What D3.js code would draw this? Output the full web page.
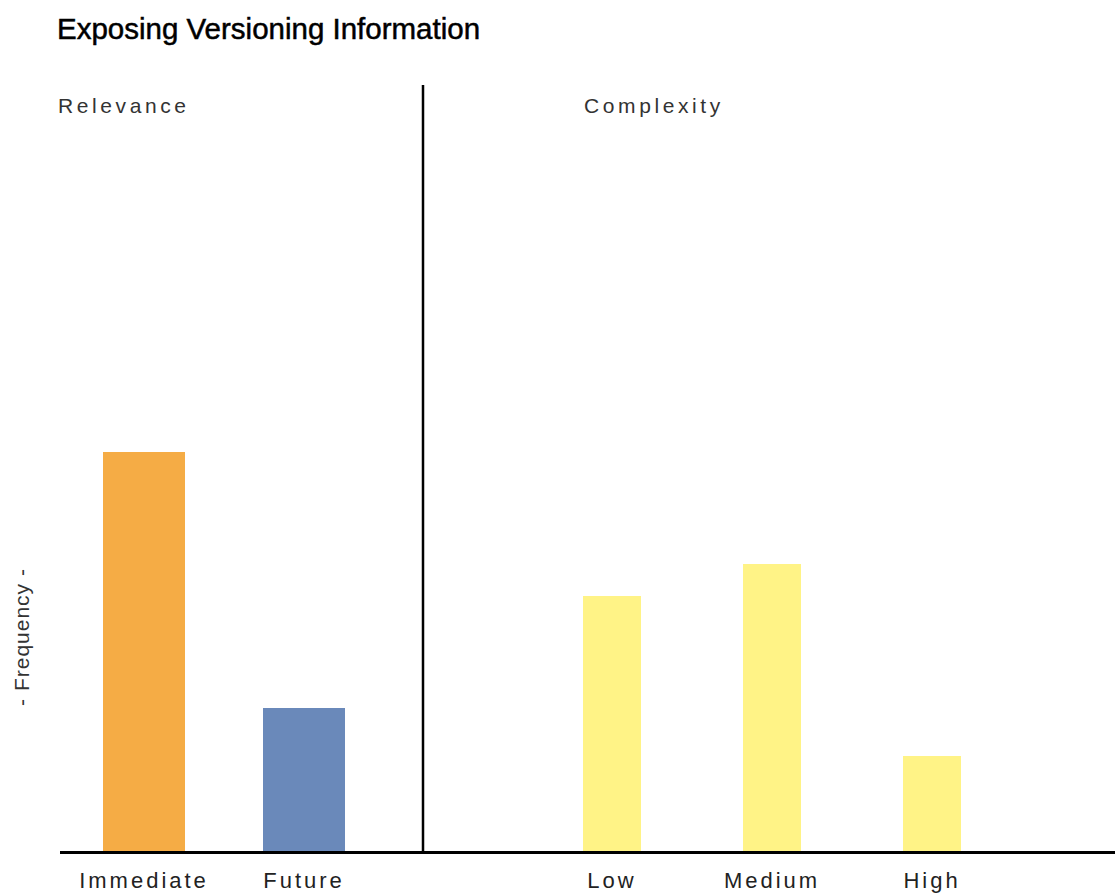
<!DOCTYPE html>
<html>
<head>
<meta charset="utf-8">
<script src="https://cdn.jsdelivr.net/npm/d3@7"></script>
<style>
  html, body { margin: 0; padding: 0; background: #fff; }
  svg { display: block; }
  text { font-family: "Liberation Sans", Arial, sans-serif; }
</style>
</head>
<body>
<svg id="chart" width="1115" height="893"></svg>
<script>
const title = "Exposing Versioning Information";
const yLabel = "- Frequency -";
const panelTitles = ["Relevance", "Complexity"];
const relevanceCats = ["Immediate", "Future"];
const relevanceVals = [25, 9];
const relevanceColors = ["#F5AC45", "#6A89BA"];
const complexityCats = ["Low", "Medium", "High"];
const complexityVals = [16, 18, 6];
const complexityColor = "#FFF386";

const svg = d3.select("#chart");
const baseY = 852, topY = 84;
const y = d3.scaleLinear().domain([0, 48]).range([baseY, topY]);

const xRel = d3.scaleBand().domain(relevanceCats).range([64, 384]);
const xCom = d3.scaleBand().domain(complexityCats).range([532, 1012]);
const relW = 82, comW = 58;

// bars
svg.append("g").selectAll("rect").data(relevanceCats).join("rect")
  .attr("x", d => xRel(d) + xRel.bandwidth()/2 - relW/2)
  .attr("width", relW)
  .attr("y", (d,i) => y(relevanceVals[i]))
  .attr("height", (d,i) => baseY - y(relevanceVals[i]))
  .attr("fill", (d,i) => relevanceColors[i]);

svg.append("g").selectAll("rect").data(complexityCats).join("rect")
  .attr("x", d => xCom(d) + xCom.bandwidth()/2 - comW/2)
  .attr("width", comW)
  .attr("y", (d,i) => y(complexityVals[i]))
  .attr("height", (d,i) => baseY - y(complexityVals[i]))
  .attr("fill", complexityColor);

// divider
svg.append("line").attr("x1", 423).attr("x2", 423).attr("y1", 85).attr("y2", baseY)
  .attr("stroke", "#000").attr("stroke-width", 2.5);

// baseline
svg.append("line").attr("x1", 60).attr("x2", 1115).attr("y1", baseY + 0.5).attr("y2", baseY + 0.5)
  .attr("stroke", "#000").attr("stroke-width", 3);

// x axis labels
const axRel = d3.axisBottom(xRel).tickSize(0).tickPadding(0);
const axCom = d3.axisBottom(xCom).tickSize(0).tickPadding(0);
[ [axRel], [axCom] ].forEach(([ax]) => {
  const g = svg.append("g").attr("transform", `translate(0,${baseY})`).call(ax);
  g.select(".domain").remove();
  g.selectAll("text")
    .attr("dy", null).attr("y", 36)
    .style("font-family", '"Liberation Sans", Arial, sans-serif')
    .style("font-size", "22px").style("letter-spacing", "3px")
    .attr("fill", "#222");
});

// title
svg.append("text").attr("x", 57).attr("y", 39).text(title)
  .style("font-size", "29.5px").attr("fill", "#000")
  .attr("stroke", "#000").attr("stroke-width", 0.5);

// panel titles
svg.append("text").attr("x", 58).attr("y", 113).text(panelTitles[0])
  .style("font-size", "21px").style("letter-spacing", "3.6px").attr("fill", "#333");
svg.append("text").attr("x", 584).attr("y", 113).text(panelTitles[1])
  .style("font-size", "21px").style("letter-spacing", "3.6px").attr("fill", "#333");

// y label
svg.append("text").attr("transform", "translate(29,637) rotate(-90)")
  .attr("text-anchor", "middle").text(yLabel)
  .style("font-size", "21px").style("letter-spacing", "1px").attr("fill", "#333");
</script>
</body>
</html>
